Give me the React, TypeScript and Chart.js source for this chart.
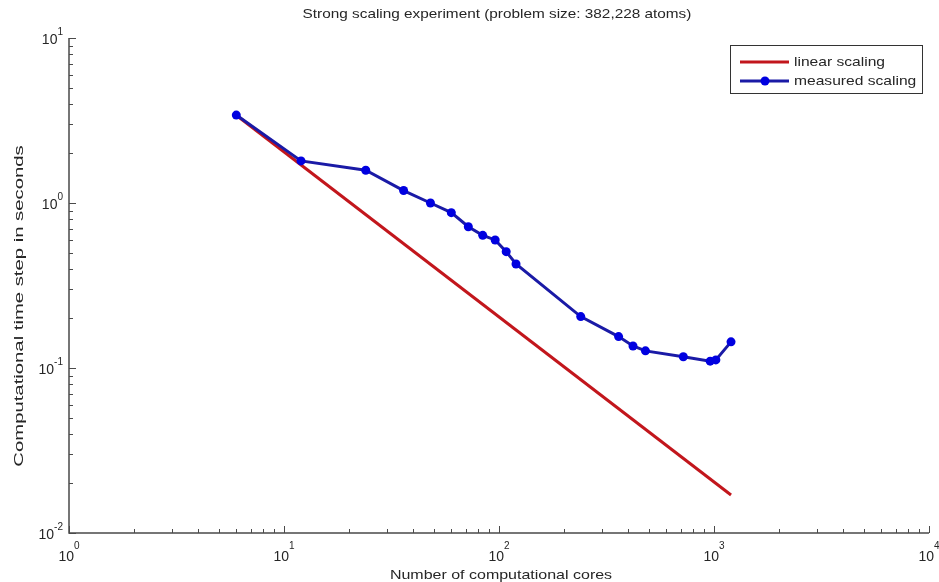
import React, { useEffect, useRef } from "react";
import { Chart, registerables } from "chart.js";

Chart.register(...registerables);

const TITLE = "Strong scaling experiment (problem size: 382,228 atoms)";
const X_TITLE = "Number of computational cores";
const Y_TITLE = "Computational time step in seconds";
const LEGEND_LABELS = ["linear scaling", "measured scaling"];

const coreCounts = [6, 12, 24, 36, 48, 60, 72, 84, 96, 108, 120, 240, 360, 420, 480, 720, 960, 1020, 1200];
const measuredTimes = [3.41, 1.8, 1.58, 1.19, 1.0, 0.874, 0.718, 0.637, 0.597, 0.507, 0.427, 0.205, 0.155, 0.136, 0.127, 0.117, 0.11, 0.112, 0.144];
const linearCores = [6, 1200];
const linearTimes = [3.4, 0.017];

const xExponents = [0, 1, 2, 3, 4];
const yExponents = [-2, -1, 0, 1];
const minorMultipliers = [2, 3, 4, 5, 6, 7, 8, 9];

const RED = "#c2161c";
const BLUE_LINE = "#1a1aa6";
const BLUE_MARK = "#0000e0";
const AXIS = "#4a4a4a";
const TEXT = "#262626";
const FONT = '"Liberation Sans", Arial, sans-serif';

function stretchedText(ctx: CanvasRenderingContext2D, text: string, x: number, y: number, size: number, sx: number, align: CanvasTextAlign, rotate = false) {
  ctx.save();
  ctx.translate(x, y);
  if (rotate) ctx.rotate(-Math.PI / 2);
  ctx.scale(sx, 1);
  ctx.font = `${size}px ${FONT}`;
  ctx.textAlign = align;
  ctx.textBaseline = "middle";
  ctx.fillStyle = TEXT;
  ctx.fillText(text, 0, 0);
  ctx.restore();
}

function powerLabel(ctx: CanvasRenderingContext2D, exp: number, x: number, y: number, mode: "x" | "y") {
  const base = "10";
  const ex = exp < 0 ? "-" + Math.abs(exp) : String(exp);
  ctx.save();
  ctx.fillStyle = TEXT;
  ctx.textBaseline = "alphabetic";
  ctx.textAlign = "left";
  ctx.font = `14px ${FONT}`;
  const bw = ctx.measureText(base).width;
  ctx.font = `10px ${FONT}`;
  const ew = ctx.measureText(ex).width;
  if (mode === "x") {
    const left = x - (bw + ew) / 2;
    ctx.font = `14px ${FONT}`;
    ctx.fillText(base, left, 561);
    ctx.font = `10px ${FONT}`;
    ctx.fillText(ex, left + bw, 549);
  } else {
    const right = 63;
    const el = right - ew;
    const bl = el - bw;
    ctx.font = `14px ${FONT}`;
    ctx.fillText(base, bl, y + 6);
    ctx.font = `10px ${FONT}`;
    ctx.fillText(ex, el, y - 3);
  }
  ctx.restore();
}

const decorPlugin = {
  id: "decor",
  beforeDatasetsDraw(chart: any) {
    const { ctx, chartArea } = chart;
    const xs = chart.scales.x;
    const ys = chart.scales.y;
    const { left, right, top, bottom } = chartArea;
    ctx.save();
    ctx.strokeStyle = AXIS;
    ctx.lineWidth = 1.5;
    ctx.beginPath();
    ctx.moveTo(left, top);
    ctx.lineTo(left, bottom);
    ctx.lineTo(right, bottom);
    ctx.stroke();

    ctx.lineWidth = 1;
    xExponents.forEach((e, i) => {
      const px = Math.round(xs.getPixelForValue(Math.pow(10, e))) + 0.5;
      ctx.beginPath();
      ctx.moveTo(px, bottom);
      ctx.lineTo(px, bottom - 7);
      ctx.stroke();
      if (i < xExponents.length - 1) {
        minorMultipliers.forEach((m) => {
          const mx = Math.round(xs.getPixelForValue(m * Math.pow(10, e))) + 0.5;
          ctx.beginPath();
          ctx.moveTo(mx, bottom);
          ctx.lineTo(mx, bottom - 4);
          ctx.stroke();
        });
      }
      powerLabel(ctx, e, xs.getPixelForValue(Math.pow(10, e)), bottom, "x");
    });
    yExponents.forEach((e, i) => {
      const py = Math.round(ys.getPixelForValue(Math.pow(10, e))) + 0.5;
      ctx.beginPath();
      ctx.moveTo(left, py);
      ctx.lineTo(left + 7, py);
      ctx.stroke();
      if (i < yExponents.length - 1) {
        minorMultipliers.forEach((m) => {
          const my = Math.round(ys.getPixelForValue(m * Math.pow(10, e))) + 0.5;
          ctx.beginPath();
          ctx.moveTo(left, my);
          ctx.lineTo(left + 4, my);
          ctx.stroke();
        });
      }
      powerLabel(ctx, e, left, ys.getPixelForValue(Math.pow(10, e)), "y");
    });
    ctx.restore();

    stretchedText(ctx, TITLE, 497, 14, 13, 1.18, "center");
    stretchedText(ctx, X_TITLE, 501, 575, 13, 1.23, "center");
    stretchedText(ctx, Y_TITLE, 19, 306, 13, 1.56, "center", true);
  },
  afterDatasetsDraw(chart: any) {
    const { ctx } = chart;
    ctx.save();
    ctx.fillStyle = "#ffffff";
    ctx.fillRect(730, 45, 192, 48);
    ctx.strokeStyle = "#333333";
    ctx.lineWidth = 1;
    ctx.strokeRect(730.5, 45.5, 192, 48);
    ctx.lineWidth = 3;
    ctx.strokeStyle = RED;
    ctx.beginPath();
    ctx.moveTo(740, 62);
    ctx.lineTo(789, 62);
    ctx.stroke();
    ctx.strokeStyle = BLUE_LINE;
    ctx.beginPath();
    ctx.moveTo(740, 81);
    ctx.lineTo(789, 81);
    ctx.stroke();
    ctx.fillStyle = BLUE_MARK;
    ctx.beginPath();
    ctx.arc(765, 81, 4.5, 0, Math.PI * 2);
    ctx.fill();
    ctx.restore();
    stretchedText(ctx, LEGEND_LABELS[0], 794, 62, 13, 1.2, "left");
    stretchedText(ctx, LEGEND_LABELS[1], 794, 81, 13, 1.2, "left");
  },
};

export default function App() {
  const ref = useRef<HTMLCanvasElement | null>(null);
  useEffect(() => {
    document.body.style.margin = "0";
    const canvas = ref.current;
    if (!canvas) return;
    const chart = new Chart(canvas, {
      type: "line",
      data: {
        datasets: [
          {
            label: LEGEND_LABELS[1],
            data: coreCounts.map((c, i) => ({ x: c, y: measuredTimes[i] })),
            borderColor: BLUE_LINE,
            backgroundColor: BLUE_MARK,
            borderWidth: 3,
            pointRadius: 4.5,
            pointBorderWidth: 0,
            pointBackgroundColor: BLUE_MARK,
            tension: 0,
            fill: false,
          },
          {
            label: LEGEND_LABELS[0],
            data: linearCores.map((c, i) => ({ x: c, y: linearTimes[i] })),
            borderColor: RED,
            backgroundColor: RED,
            borderWidth: 3,
            pointRadius: 0,
            tension: 0,
            fill: false,
          },
        ],
      },
      options: {
        animation: false,
        responsive: false,
        devicePixelRatio: 1,
        layout: { padding: { left: 69, right: 10, top: 38, bottom: 49 } },
        scales: {
          x: { type: "logarithmic", min: 1, max: 10000, display: false },
          y: { type: "logarithmic", min: 0.01, max: 10, display: false },
        },
        plugins: {
          legend: { display: false },
          title: { display: false },
          tooltip: { enabled: false },
        },
      },
      plugins: [decorPlugin],
    } as any);
    return () => chart.destroy();
  }, []);
  return (
    <div style={{ width: 939, height: 582, background: "#fff" }}>
      <canvas ref={ref} width={939} height={582} style={{ display: "block" }} />
    </div>
  );
}
